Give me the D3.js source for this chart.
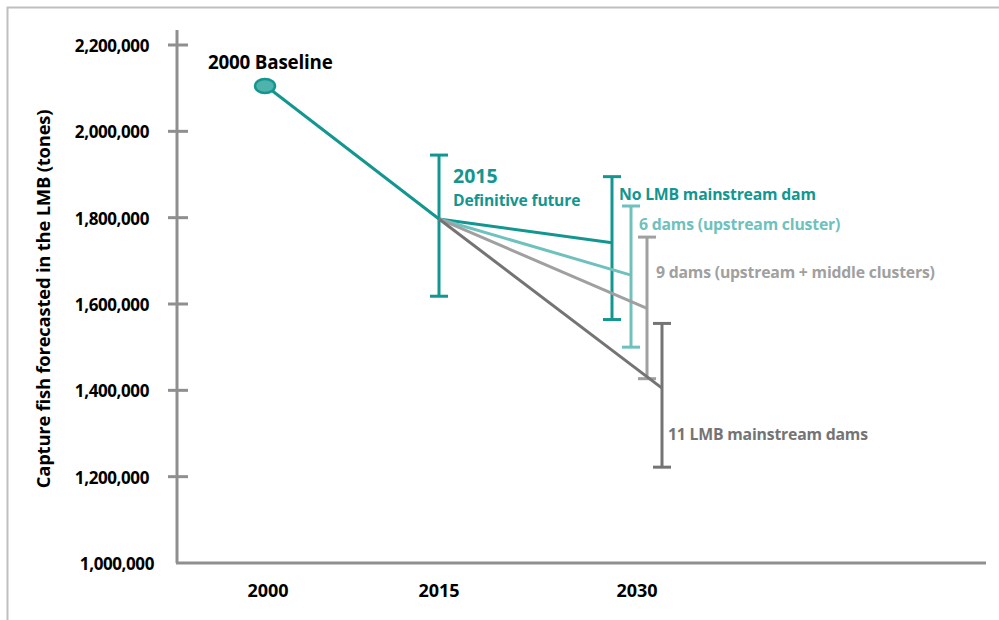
<!DOCTYPE html>
<html>
<head>
<meta charset="utf-8">
<script src="https://cdn.jsdelivr.net/npm/d3@7"></script>
<style>
  body { margin: 0; background: #fff; }
  svg { font-family: "Open Sans", Lato, sans-serif; font-weight: bold; }
</style>
</head>
<body>
<svg width="999" height="620"></svg>
<script>
// data
var years = [2000, 2015, 2030];
var yTicks = [1000000, 1200000, 1400000, 1600000, 1800000, 2000000, 2200000];
var baseline = 2105000;
var definitive = 1797000;
var definitiveRange = [1618000, 1945000];

var scenarios = ["No LMB mainstream dam", "6 dams (upstream cluster)",
                 "9 dams (upstream + middle clusters)", "11 LMB mainstream dams"];
var scenarioValues = [1742000, 1667000, 1590000, 1405000];
var scenarioLow = [1564000, 1500000, 1427000, 1222000];
var scenarioHigh = [1895000, 1827000, 1755000, 1555000];
var colors = ["#13968f", "#6fc1bd", "#a0a0a0", "#747474"];

var svg = d3.select("svg");
var axisCol = "#8f8f8f";

// frame (top + left)
svg.append("path").attr("d", "M7.5,620V7.5H999").attr("fill", "none")
  .attr("stroke", "#bfbfbf").attr("stroke-width", 2);

var y = d3.scaleLinear().domain([1000000, 2200000]).range([563, 45]);
var x = d3.scaleLinear().domain(years).range([266, 439, 637]);
var dodge = [-25, -6, 10, 25];

// y axis
var yAxis = svg.append("g").attr("transform", "translate(177,0)");
yAxis.append("line").attr("y1", 30).attr("y2", y(1000000))
  .attr("stroke", axisCol).attr("stroke-width", 3);
yAxis.selectAll("line.tk").data(yTicks.slice(1)).enter().append("line")
  .attr("class", "tk").attr("x1", -9).attr("x2", 11)
  .attr("y1", function(d){ return y(d); }).attr("y2", function(d){ return y(d); })
  .attr("stroke", axisCol).attr("stroke-width", 3);
var fmt = d3.format(",");
yAxis.selectAll("text").data(yTicks).enter().append("text")
  .attr("x", function(d){ return d == 1000000 ? -23 : -28; })
  .attr("y", function(d){ return y(d) + 7; })
  .attr("text-anchor", "end").attr("font-size", 17).attr("fill", "#000")
  .attr("letter-spacing", -0.4)
  .text(function(d){ return fmt(d); });

svg.append("text").attr("transform", "translate(50,299) rotate(-90)")
  .attr("text-anchor", "middle").attr("font-size", 18.4).attr("fill", "#000")
  .attr("letter-spacing", -0.2)
  .text("Capture fish forecasted in the LMB (tones)");

// x axis
svg.append("line").attr("x1", 176).attr("x2", 986)
  .attr("y1", y(1000000)).attr("y2", y(1000000))
  .attr("stroke", axisCol).attr("stroke-width", 3);
svg.selectAll("text.xl").data(years).enter().append("text").attr("class", "xl")
  .attr("x", function(d, i){ return x(d) + (i == 0 ? 2 : 0); }).attr("y", 597)
  .attr("text-anchor", "middle").attr("font-size", 18).attr("fill", "#000")
  .text(function(d){ return d; });

function errBar(cx, lo, hi, col) {
  var g = svg.append("g").attr("stroke", col).attr("stroke-width", 3);
  g.append("line").attr("x1", cx).attr("x2", cx).attr("y1", y(lo)).attr("y2", y(hi));
  [lo, hi].forEach(function(v){
    g.append("line").attr("x1", cx - 9).attr("x2", cx + 9)
      .attr("y1", y(v)).attr("y2", y(v));
  });
}

// definitive future error bar
errBar(x(2015), definitiveRange[0], definitiveRange[1], colors[0]);

// scenario error bars
scenarios.forEach(function(s, i){
  errBar(x(2030) + dodge[i], scenarioLow[i], scenarioHigh[i], colors[i]);
});

// scenario lines
scenarios.forEach(function(s, i){
  svg.append("line")
    .attr("x1", x(2015)).attr("y1", y(definitive))
    .attr("x2", x(2030) + dodge[i]).attr("y2", y(scenarioValues[i]))
    .attr("stroke", colors[i]).attr("stroke-width", 3);
});

// baseline to 2015
svg.append("line").attr("x1", x(2000)).attr("y1", y(baseline))
  .attr("x2", x(2015)).attr("y2", y(definitive))
  .attr("stroke", colors[0]).attr("stroke-width", 3);
svg.append("ellipse").attr("cx", x(2000) - 1).attr("cy", y(baseline))
  .attr("rx", 10).attr("ry", 7).attr("fill", "#4fb3ad")
  .attr("stroke", colors[0]).attr("stroke-width", 2.5);

// labels
svg.append("text").attr("x", 208).attr("y", 69).attr("font-size", 18.8)
  .attr("fill", "#000").attr("letter-spacing", -0.2).text("2000 Baseline");
svg.append("text").attr("x", 453).attr("y", 183).attr("font-size", 19.5)
  .attr("fill", colors[0]).text("2015");
svg.append("text").attr("x", 453).attr("y", 206).attr("font-size", 15.7)
  .attr("fill", colors[0]).attr("letter-spacing", -0.2).text("Definitive future");

var labelPos = [[619, 200], [639, 230], [656, 278], [668, 440]];
scenarios.forEach(function(s, i){
  svg.append("text").attr("x", labelPos[i][0]).attr("y", labelPos[i][1])
    .attr("font-size", 15.8).attr("fill", colors[i]).attr("letter-spacing", -0.2)
    .text(s);
});
</script>
</body>
</html>
